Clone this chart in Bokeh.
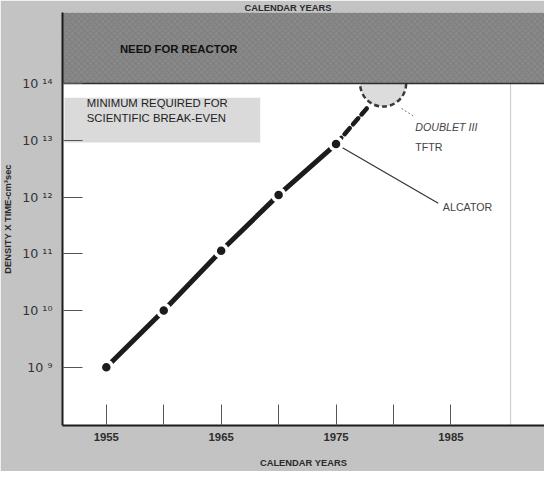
from bokeh.plotting import figure
from bokeh.models import (Range1d, FixedTicker, CustomJSTickFormatter,
                          ColumnDataSource)
from bokeh.core.properties import value
from bokeh.embed import file_html
from bokeh.resources import INLINE

# ---- data ----
years = [1955, 1960, 1965, 1970, 1975]
density_time = [1.0e9, 1.0e10, 1.13e11, 1.09e12, 8.6e12]
proj_years = [1975, 1977.8]
proj_values = [8.6e12, 3.9e13]
goal_year = [1979.1]
goal_value = [1.0e14]
reactor_level = 1.0e14
breakeven_low, breakeven_high = 9.1e12, 5.6e13
x_ticks = [1955, 1960, 1965, 1970, 1975, 1980, 1985]
x_tick_labels = {1955: "1955", 1960: "", 1965: "1965", 1970: "",
                 1975: "1975", 1980: "", 1985: "1985"}
y_ticks = [1e9, 1e10, 1e11, 1e12, 1e13, 1e14]

FONT = "Liberation Sans"
INK = "#1c1c1c"

p = figure(width=544, height=471, output_backend="svg", toolbar_location=None,
           y_axis_type="log",
           x_range=Range1d(1951.185, 1993.15),
           y_range=Range1d(10**7.974, 10**15.252),
           min_border_left=60, min_border_right=0,
           min_border_top=0, min_border_bottom=46)

p.title.text = "CALENDAR YEARS"
p.title.align = "left"
p.title.offset = 182
p.title.standoff = 0
p.title.text_font = FONT
p.title.text_font_size = "7pt"
p.title.text_font_style = "bold"
p.title.text_color = "#2a2a2a"

p.background_fill_color = "white"
p.border_fill_color = "#c3c3c3"
p.outline_line_color = None
p.xgrid.visible = False
p.ygrid.visible = False

# axes
p.xaxis.ticker = FixedTicker(ticks=x_ticks)
p.xaxis.major_label_overrides = x_tick_labels
p.xaxis.major_tick_in = 21
p.xaxis.major_tick_out = 0
p.xaxis.minor_tick_line_color = None
p.xaxis.axis_line_color = INK
p.xaxis.axis_line_width = 2
p.xaxis.major_tick_line_color = "#555555"
p.xaxis.major_label_text_font = FONT
p.xaxis.major_label_text_font_size = "8.5pt"
p.xaxis.major_label_text_font_style = "bold"
p.xaxis.major_label_text_color = "#2e2e2e"
p.xaxis.major_label_standoff = 7
p.xaxis.axis_label = "CALENDAR YEARS"
p.xaxis.axis_label_text_font = FONT
p.xaxis.axis_label_text_font_size = "7pt"
p.xaxis.axis_label_text_font_style = "bold"
p.xaxis.axis_label_text_color = "#2a2a2a"
p.xaxis.axis_label_standoff = 14

p.yaxis.ticker = FixedTicker(ticks=y_ticks)
p.yaxis.formatter = CustomJSTickFormatter(code="""
    const sup = {'0':'\u2070','1':'\u00b9','2':'\u00b2','3':'\u00b3','4':'\u2074',
                 '5':'\u2075','6':'\u2076','7':'\u2077','8':'\u2078','9':'\u2079'};
    const e = String(Math.round(Math.log10(tick)));
    return '10 ' + e.split('').map(c => sup[c]).join('');
""")
p.yaxis.major_tick_in = 20
p.yaxis.major_tick_out = 0
p.yaxis.minor_tick_line_color = None
p.yaxis.axis_line_color = INK
p.yaxis.axis_line_width = 2
p.yaxis.major_tick_line_color = "#555555"
p.yaxis.major_label_text_font = "DejaVu Sans"
p.yaxis.major_label_text_font_size = "9.5pt"
p.yaxis.major_label_text_color = "#333333"
p.yaxis.major_label_standoff = 10
p.yaxis.axis_label = "DENSITY X TIME-cm\u00b3sec"
p.yaxis.axis_label_text_font = FONT
p.yaxis.axis_label_text_font_size = "7pt"
p.yaxis.axis_label_text_font_style = "bold"
p.yaxis.axis_label_text_color = "#2a2a2a"
p.yaxis.axis_label_standoff = 6

# faint vertical rule on the right
p.segment(x0=[1990.2], y0=[10**7.974], x1=[1990.2], y1=[reactor_level],
          line_color="#c8c8c8", line_width=1)

# break-even box
p.quad(left=[1951.36], right=[1968.4], bottom=[breakeven_low], top=[breakeven_high],
       fill_color="#dadada", line_color=None)
p.text(x=[1953.3, 1953.3], y=[10**13.65, 10**13.39],
       text=["MINIMUM REQUIRED FOR", "SCIENTIFIC BREAK-EVEN"],
       text_font=value(FONT), text_font_size="8.5pt", text_color="#222222",
       text_baseline="middle", text_align="left")

# goal circle (drawn before the band so the band hides its top half)
p.scatter(x=goal_year, y=goal_value, size=46, marker="circle",
          fill_color="#dcdcdc", line_color="#3a3a3a", line_width=2.5,
          line_dash="5 3")

# reactor band
p.quad(left=[1940], right=[2000], bottom=[reactor_level], top=[1e17],
       fill_color="#888888", line_color="#2f2f2f", line_width=1.5,
       hatch_pattern="x", hatch_color="#707070", hatch_alpha=0.5, hatch_scale=6)
p.text(x=[1961.3], y=[10**14.605], text=["NEED FOR REACTOR"],
       text_font=value(FONT), text_font_size="8.5pt", text_font_style="bold",
       text_color="#111111", text_align="center", text_baseline="middle")

# leader lines
p.segment(x0=[1975], y0=[8.6e12], x1=[1983.9], y1=[10**11.89],
          line_color="#333333", line_width=1.2)
p.segment(x0=[1980.7], y0=[10**13.56], x1=[1981.8], y1=[10**13.42],
          line_color="#777777", line_width=1, line_dash="2 2")

# projection (dashed)
p.line(x=proj_years, y=proj_values, line_color=INK, line_width=4.5,
       line_dash="8 5", line_cap="round")

# measured trend
src = ColumnDataSource(dict(x=years, y=density_time))
p.line("x", "y", source=src, line_color=INK, line_width=5)
p.scatter("x", "y", source=src, size=12, fill_color=INK,
          line_color="white", line_width=3.5)

# annotations
p.text(x=[1981.9], y=[10**13.24], text=["DOUBLET III"],
       text_font=value(FONT), text_font_size="8pt", text_font_style="italic",
       text_color="#444444", text_baseline="middle")
p.text(x=[1981.9], y=[10**12.873], text=["TFTR"],
       text_font=value(FONT), text_font_size="8pt",
       text_color="#444444", text_baseline="middle")
p.text(x=[1984.3], y=[10**11.82], text=["ALCATOR"],
       text_font=value(FONT), text_font_size="8pt",
       text_color="#444444", text_baseline="middle")

open("out.html", "w").write(file_html(p, INLINE))
